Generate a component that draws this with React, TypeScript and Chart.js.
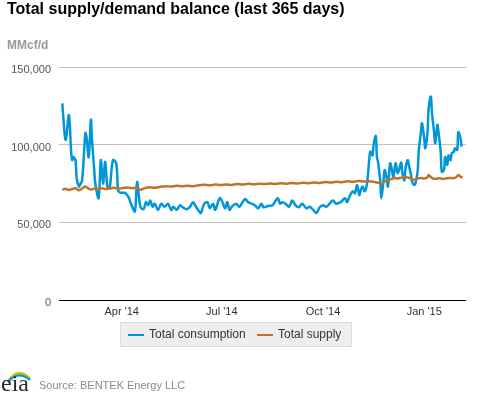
import React, { useEffect, useRef } from "react";
import { Chart, registerables } from "chart.js";

Chart.register(...registerables);

const TITLE = "Total supply/demand balance (last 365 days)";
const UNIT_LABEL = "MMcf/d";
const SOURCE_TEXT = "Source: BENTEK Energy LLC";
const SERIES_NAMES = ["Total consumption", "Total supply"];
const SERIES_COLORS = ["#0096d7", "#bd732a"];

// x positions are days counted from 2014-01-01
const X_MIN_DAY = 33;
const X_MAX_DAY = 403;
const X_TICK_DAYS = [90, 181, 273, 365];
const X_TICK_LABELS = ["Apr '14", "Jul '14", "Oct '14", "Jan '15"];
const Y_MIN = 0;
const Y_MAX = 150000;
const Y_STEP = 50000;

const consumptionDays = [
  36, 39, 42, 44, 45, 46, 48, 49, 51, 52, 54, 57, 58, 60, 62, 63, 65, 66, 69, 71,
  73, 75, 77, 79, 82, 85, 87, 90, 93, 96, 99, 102, 104, 107, 110, 112, 114, 116, 118, 120,
  123, 126, 129, 132, 135, 137, 140, 143, 145, 149, 152, 155, 157, 160, 162, 165, 168, 170, 173, 175,
  179, 181, 184, 186, 188, 190, 194, 197, 202, 205, 208, 211, 214, 217, 219, 223, 227, 230, 232, 234,
  236, 239, 242, 245, 248, 251, 254, 258, 261, 264, 267, 270, 273, 276, 279, 282, 285, 289, 293, 295,
  297, 300, 302, 304, 306, 307, 309, 311, 313, 315, 316, 318, 319, 321, 322, 323, 325, 326, 328, 329,
  331, 332, 334, 335, 337, 339, 341, 344, 345, 347, 348, 350, 351, 353, 354, 356, 357, 359, 360, 362,
  363, 365, 366, 368, 369, 371, 372, 374, 375, 377, 378, 380, 381, 383, 384, 386, 387, 389, 390, 392,
  393, 395, 396, 398, 399,
];
const consumptionValues = [
  126600, 103000, 119000, 96000, 90000, 92000, 90000, 79000, 73000, 74000, 77000, 107500, 105000, 92000, 116000, 103000, 84000, 75000, 65600, 90000,
  75000, 89000, 73000, 72000, 90000, 88000, 70000, 69000, 69000, 66500, 61000, 57000, 76000, 60000, 58500, 63000, 61000, 64000, 60000, 62000,
  58000, 62000, 60000, 62000, 58000, 60000, 58000, 61000, 60000, 58500, 60000, 63000, 60500, 57500, 56000, 62000, 63000, 59000, 62000, 58000,
  65600, 64000, 59000, 63000, 58000, 60000, 62000, 60000, 65000, 63000, 62000, 61000, 59000, 62000, 59700, 60500, 61000, 64000, 65500, 62000,
  63000, 62000, 60000, 64000, 61000, 59700, 62000, 59000, 60000, 58000, 56000, 59700, 61000, 60000, 62000, 64000, 62000, 63000, 65500, 63000,
  66500, 70000, 68700, 74000, 67600, 70000, 73000, 70000, 75000, 90000, 95500, 93000, 100000, 105600, 92000, 89000, 77000, 65500, 77000, 83700,
  78000, 73000, 88000, 86000, 79400, 88000, 81600, 88500, 82600, 77000, 84800, 90000, 87000, 80500, 76000, 74000, 75000, 82600, 95500, 108000,
  113700, 104000, 97700, 108000, 123000, 131000, 121000, 108000, 101000, 112700, 108000, 95500, 82600, 83700, 92000, 87000, 93000, 90000, 94400, 95500,
  97700, 96600, 108000, 104000, 98700,
];

const supplyDays = [
  36, 39, 42, 45, 48, 51, 54, 57, 60, 63, 66, 69, 72, 75, 79, 83, 87, 91, 95, 99,
  103, 107, 111, 115, 120, 125, 130, 135, 140, 145, 150, 155, 160, 165, 170, 175, 180, 185, 190, 195,
  200, 205, 210, 215, 220, 225, 230, 235, 240, 245, 250, 255, 260, 265, 270, 275, 280, 285, 290, 295,
  300, 305, 310, 315, 320, 323, 326, 329, 332, 335, 338, 341, 344, 347, 350, 353, 356, 359, 362, 365,
  368, 369, 371, 373, 376, 379, 382, 385, 388, 391, 394, 396, 398, 400,
];
const supplyValues = [
  71000, 71600, 70800, 71500, 71900, 70600, 71800, 73000, 71600, 71200, 71900, 71300, 72000, 71400, 71800, 72200, 71600, 72100, 72400, 72000,
  72300, 70900, 72000, 72600, 72200, 72900, 73300, 73000, 73500, 73200, 73600, 73300, 73900, 74200, 73800, 74300, 74000, 74400, 74100, 74600,
  74300, 74800, 74500, 74900, 74600, 75000, 74700, 75200, 74900, 75300, 75000, 75500, 75200, 75700, 75400, 75900, 75600, 76100, 75800, 76400,
  76100, 76600, 76300, 76500, 76000, 75500, 74900, 76300, 77200, 77800, 78500, 78200, 78800, 79300, 78900, 78200, 77400, 78300, 78600, 78200,
  79000, 80500, 79200, 78200, 78000, 78400, 77900, 78300, 78600, 78400, 79000, 80500, 79400, 78800,
];

const FONT = '"Liberation Sans", Arial, Helvetica, sans-serif';

const decorPlugin = {
  id: "decor",
  afterDraw(chart: any) {
    const ctx = chart.ctx as CanvasRenderingContext2D;
    ctx.save();
    // title
    ctx.textBaseline = "alphabetic";
    ctx.textAlign = "left";
    ctx.fillStyle = "#000000";
    ctx.font = `bold 16px ${FONT}`;
    ctx.fillText(TITLE, 7, 14);
    // unit label
    ctx.fillStyle = "#999999";
    ctx.font = `bold 12px ${FONT}`;
    ctx.fillText(UNIT_LABEL, 7, 49);

    // legend box
    ctx.fillStyle = "#eeeeee";
    ctx.fillRect(120, 322, 232, 25);
    ctx.strokeStyle = "#dddddd";
    ctx.lineWidth = 1;
    ctx.strokeRect(120.5, 322.5, 231, 24);
    ctx.font = `12px ${FONT}`;
    ctx.textBaseline = "middle";
    const items = [
      { x: 128, label: SERIES_NAMES[0], color: SERIES_COLORS[0] },
      { x: 257, label: SERIES_NAMES[1], color: SERIES_COLORS[1] },
    ];
    for (const it of items) {
      ctx.strokeStyle = it.color;
      ctx.lineWidth = 2;
      ctx.beginPath();
      ctx.moveTo(it.x, 335);
      ctx.lineTo(it.x + 16, 335);
      ctx.stroke();
      ctx.fillStyle = "#333333";
      ctx.fillText(it.label, it.x + 21, 335);
    }

    // source
    ctx.textBaseline = "alphabetic";
    ctx.fillStyle = "#8a8a8a";
    ctx.font = `11px ${FONT}`;
    ctx.fillText(SOURCE_TEXT, 39, 389);

    // eia logo
    ctx.lineWidth = 2;
    const arcs = [
      { c: "#f2c200", dy: 0 },
      { c: "#8cc63f", dy: 2 },
      { c: "#0096d7", dy: 4 },
    ];
    for (const a of arcs) {
      ctx.strokeStyle = a.c;
      ctx.beginPath();
      ctx.moveTo(8, 381 + a.dy * 0.3);
      ctx.quadraticCurveTo(18, 366 + a.dy, 30, 378 + a.dy * 0.5);
      ctx.stroke();
    }
    ctx.fillStyle = "#2b2b2b";
    ctx.font = `24px "Liberation Serif", "DejaVu Serif", serif`;
    ctx.fillText("eia", 1, 391);
    ctx.restore();
  },
};

export default function App() {
  const canvasRef = useRef<HTMLCanvasElement | null>(null);

  useEffect(() => {
    const canvas = canvasRef.current;
    if (!canvas) return;
    const consumption = consumptionDays.map((d, i) => ({ x: d, y: consumptionValues[i] }));
    const supply = supplyDays.map((d, i) => ({ x: d, y: supplyValues[i] }));

    const chart = new Chart(canvas, {
      type: "line",
      data: {
        datasets: [
          {
            label: SERIES_NAMES[1],
            data: supply,
            borderColor: SERIES_COLORS[1],
            backgroundColor: SERIES_COLORS[1],
            borderWidth: 2.5,
            pointRadius: 0,
            tension: 0.3,
          },
          {
            label: SERIES_NAMES[0],
            data: consumption,
            borderColor: SERIES_COLORS[0],
            backgroundColor: SERIES_COLORS[0],
            borderWidth: 2.5,
            pointRadius: 0,
            tension: 0.35,
          },
        ],
      },
      options: {
        responsive: false,
        animation: false,
        events: [],
        layout: { padding: { top: 67, right: 11, bottom: 0, left: 0 } },
        plugins: {
          legend: { display: false },
          title: { display: false },
          tooltip: { enabled: false },
        },
        scales: {
          x: {
            type: "linear",
            min: X_MIN_DAY,
            max: X_MAX_DAY,
            afterBuildTicks: (scale: any) => {
              scale.ticks = X_TICK_DAYS.map((v) => ({ value: v }));
            },
            afterFit: (scale: any) => {
              scale.height = 93;
            },
            ticks: {
              autoSkip: false,
              maxRotation: 0,
              padding: 5,
              color: "#333333",
              font: { family: FONT, size: 11 },
              callback: (v: any) => {
                const i = X_TICK_DAYS.indexOf(Number(v));
                return i >= 0 ? X_TICK_LABELS[i] : "";
              },
            },
            grid: { display: false, drawTicks: false },
            border: { display: false },
          },
          y: {
            min: Y_MIN,
            max: Y_MAX,
            afterFit: (scale: any) => {
              scale.width = 59;
            },
            ticks: {
              stepSize: Y_STEP,
              padding: 8,
              labelOffset: 3,
              color: "#555555",
              font: { family: FONT, size: 11 },
              callback: (v: any) => Number(v).toLocaleString("en-US"),
            },
            grid: {
              drawTicks: false,
              color: (c: any) => (c.tick && c.tick.value === 0 ? "#000000" : "#c0c0c0"),
              lineWidth: 1,
            },
            border: { display: false },
          },
        },
      },
      plugins: [decorPlugin],
    });
    return () => chart.destroy();
  }, []);

  return (
    <div style={{ position: "absolute", left: 0, top: 0, width: 477, height: 393, background: "#ffffff" }}>
      <canvas ref={canvasRef} width={477} height={393} style={{ display: "block" }} />
    </div>
  );
}
